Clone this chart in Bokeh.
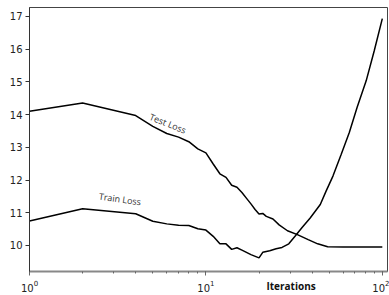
from bokeh.plotting import figure
from bokeh.models import Range1d, Label, FixedTicker, LogTicker, LogAxis
from bokeh.embed import file_html
from bokeh.resources import INLINE

# Upper curve (labelled "Test Loss")
test_x = [1, 2, 4, 5, 6, 7, 8, 9, 10, 11, 12, 13, 14, 15, 16, 17, 18, 19, 20, 21, 22,
          24, 26, 29, 33, 38, 43, 49, 60, 100]
test_y = [14.10, 14.35, 13.97, 13.64, 13.42, 13.31, 13.17, 12.95, 12.83, 12.49, 12.19,
          12.08, 11.84, 11.78, 11.62, 11.44, 11.27, 11.10, 10.96, 10.98, 10.89,
          10.81, 10.63, 10.45, 10.33, 10.18, 10.05, 9.96, 9.95, 9.95]

# Lower curve (labelled "Train Loss")
train_x = [1, 2, 4, 5, 6, 7, 8, 9, 10, 11, 12, 13, 14, 15, 16, 18, 20, 21, 23, 25,
           27, 29.5, 32, 35, 39, 44.5, 48, 52.5, 58.5, 65, 72, 81, 90, 100]
train_y = [10.75, 11.12, 10.97, 10.74, 10.66, 10.62, 10.61, 10.51, 10.47, 10.28, 10.05,
           10.05, 9.88, 9.93, 9.86, 9.72, 9.62, 9.79, 9.84, 9.90, 9.94, 10.05, 10.28,
           10.54, 10.84, 11.25, 11.66, 12.12, 12.79, 13.45, 14.22, 15.03, 15.95, 16.93]

y_ticks = [10, 11, 12, 13, 14, 15, 16, 17]
x_title = "Iterations"
x_title_pos = 30.4

p = figure(width=389, height=295, x_axis_type="log",
           x_range=Range1d(1, 107), y_range=Range1d(9.205, 17.27),
           output_backend="svg", toolbar_location=None,
           min_border_left=29, min_border_right=2, min_border_top=7, min_border_bottom=24)

p.xgrid.visible = False
p.ygrid.visible = False
p.outline_line_color = "#444444"
p.outline_line_width = 1

p.line(test_x, test_y, line_color="black", line_width=1.5)
p.line(train_x, train_y, line_color="black", line_width=1.5)

p.yaxis.ticker = FixedTicker(ticks=y_ticks)
p.xaxis.ticker = LogTicker(num_minor_ticks=10)

for ax in (p.xaxis[0], p.yaxis[0]):
    ax.major_label_text_font = "DejaVu Sans"
    ax.major_label_text_font_size = "10px"
    ax.major_label_text_color = "#222222"
    ax.major_tick_out = 4
    ax.major_tick_in = 0
    ax.minor_tick_in = 0
    ax.major_label_standoff = 3

p.yaxis.minor_tick_line_color = None
p.yaxis.axis_line_color = "#333333"
p.yaxis.major_tick_line_color = "#333333"
p.xaxis.axis_line_color = "#888888"
p.xaxis.axis_line_width = 2
p.xaxis.major_tick_line_color = "#666666"
p.xaxis.minor_tick_line_color = "#666666"
p.xaxis.minor_tick_out = 2
p.xaxis.major_label_standoff = 4

# axis title drawn as a single tick label of an extra, line-less axis below
title_axis = LogAxis(ticker=FixedTicker(ticks=[x_title_pos]),
                     major_label_overrides={x_title_pos: x_title},
                     axis_line_color=None, major_tick_line_color=None,
                     minor_tick_line_color=None, major_tick_out=0, major_tick_in=0,
                     major_label_standoff=-16,
                     major_label_text_font="Open Sans", major_label_text_font_size="10px",
                     major_label_text_font_style="bold", major_label_text_color="#111111")
p.add_layout(title_axis, "below")

p.add_layout(Label(x=6.09, y=13.73, text="Test Loss", angle=-22, angle_units="deg",
                   text_font="Open Sans", text_font_size="9px", text_color="#333333",
                   text_align="center", text_baseline="middle"))
p.add_layout(Label(x=3.26, y=11.42, text="Train Loss", angle=-8, angle_units="deg",
                   text_font="Open Sans", text_font_size="9px", text_color="#333333",
                   text_align="center", text_baseline="middle"))

open("out.html", "w").write(file_html(p, INLINE))
